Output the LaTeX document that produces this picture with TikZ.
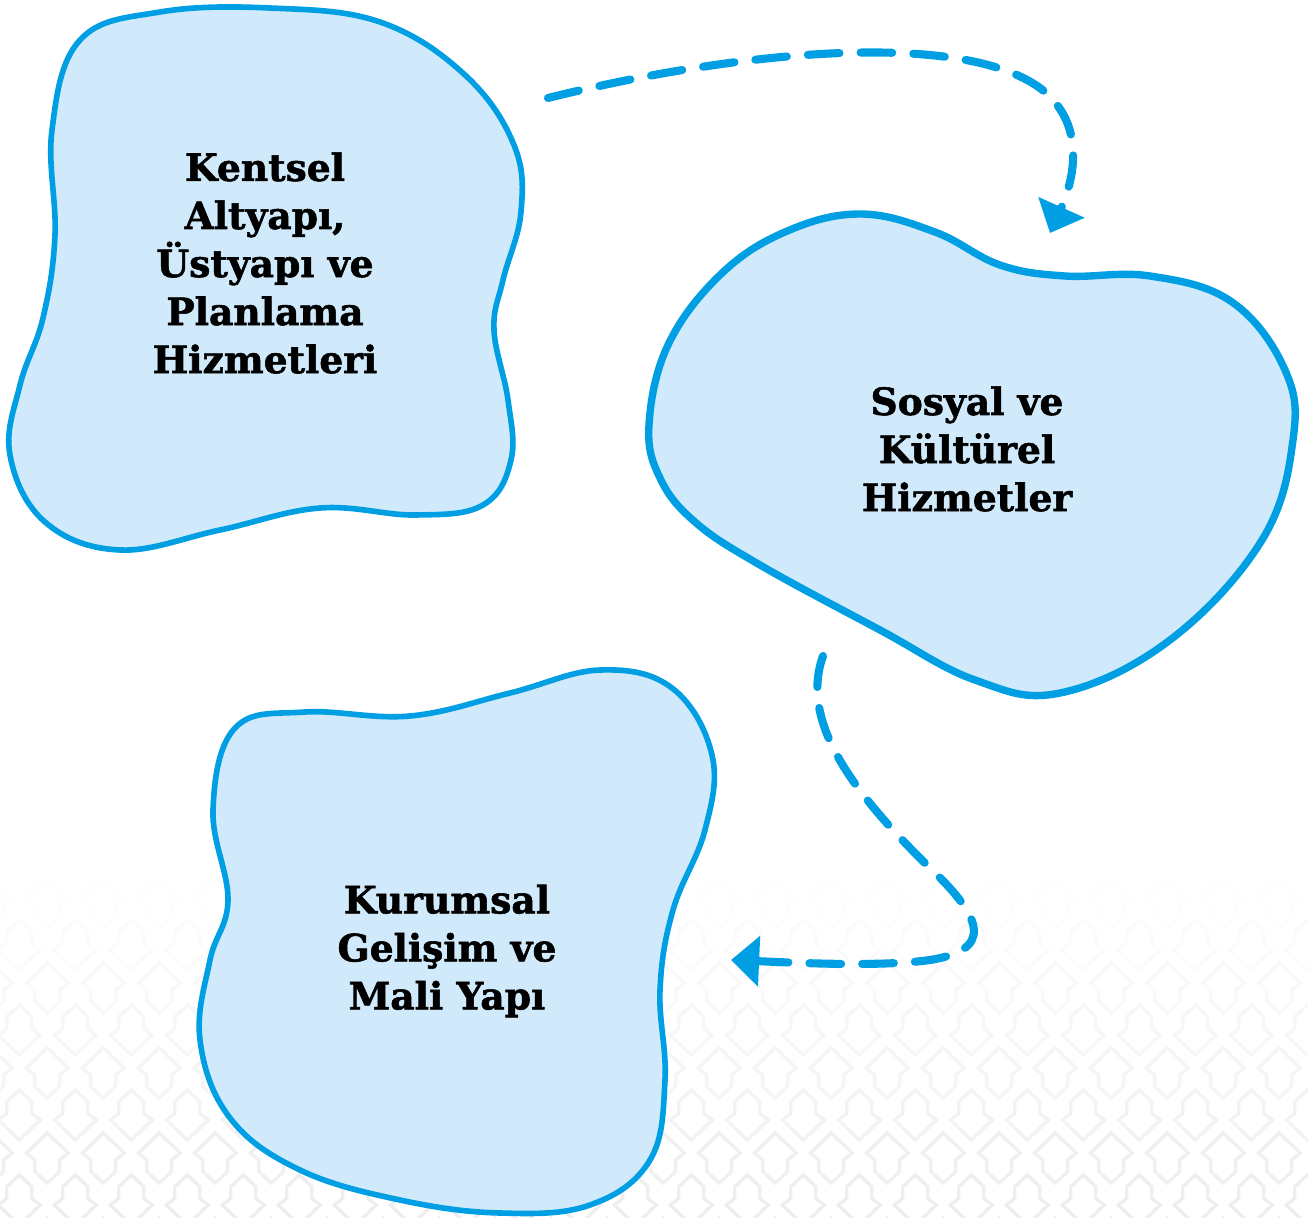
\documentclass[tikz,border=0pt]{standalone}
\usepackage{fontspec}
\setmainfont{DejaVu Serif}
\newfontfamily\labelfont[BoldFeatures={FakeBold=1.5}]{DejaVu Serif}
\usetikzlibrary{arrows.meta}
\definecolor{edgeblue}{RGB}{0,159,227}
\definecolor{fillblue}{RGB}{208,234,251}
\begin{document}
\begin{tikzpicture}[x=0.01cm,y=-0.01cm,
  blob/.style={draw=edgeblue,fill=fillblue,line width=1.6pt},
  label/.style={align=center,font=\labelfont\bfseries\fontsize{10.7}{13.66}\selectfont,text=black},
  flow/.style={draw=edgeblue,line width=2.3pt,line cap=round,
    dash pattern=on 9pt off 6pt,
    -{Triangle[length=8pt,width=14pt]}},
  motif/.style={line width=0.95pt,line join=miter}]
\useasboundingbox (0,0) rectangle (1308,1218);

% faint tiled ornament along the lower part, fading out upwards
\foreach \k in {-2,...,2} {
  \pgfmathsetmacro\ay{1005+85*\k}
  \pgfmathsetmacro\by{1048+85*\k}
  \pgfmathsetmacro\sa{max(0,min(6.5,(\ay-840)/330*6.5))}
  \pgfmathsetmacro\sb{max(0,min(6.5,(\by-840)/330*6.5))}
  \foreach \n in {-1,...,23} {
    \pgfmathsetmacro\ax{19.3+56*\n}
    \pgfmathsetmacro\bx{47.3+56*\n}
    \draw[motif,black!\sa] (\ax,\ay) -- ++(-12.5,11.7) -- ++(0,11.6) -- ++(-8.5,6.7)
      -- ++(21,20) -- ++(21,-20) -- ++(-8.5,-6.7) -- ++(0,-11.6) -- cycle;
    \draw[motif,black!\sb] (\bx,\by) -- ++(-21,20) -- ++(8.5,6.7) -- ++(0,11.6)
      -- ++(12.5,11.7) -- ++(12.5,-11.7) -- ++(0,-11.6) -- ++(8.5,-6.7) -- cycle;
  }
}

% three blob-shaped areas
\path[blob] plot[smooth cycle,tension=0.65] coordinates{
  (52,130) (80,40) (160,12) (270,8) (380,22) (465,75) (514,145) (521,212)
  (503,280) (494,330) (508,400) (511,460) (483,505) (415,515) (320,508)
  (220,530) (120,550) (45,522) (10,455) (20,385) (43,318) (55,235)};
\path[blob,line width=2.1pt] plot[smooth cycle,tension=0.65] coordinates{
  (649,425) (668,345) (720,275) (785,232) (860,214) (935,232) (1000,265) (1065,276)
  (1150,276) (1232,302) (1285,370) (1293,440) (1262,540) (1170,640)
  (1060,693) (975,680) (880,630) (760,565) (695,522) (660,478)};
\path[blob] plot[smooth cycle,tension=0.65] coordinates{
  (235,728) (305,712) (410,716) (510,693) (600,670) (672,688) (712,755)
  (705,830) (673,910) (660,990) (665,1080) (650,1160) (590,1205) (500,1213)
  (400,1200) (300,1170) (230,1118) (200,1040) (210,960) (228,900) (213,810)};

\node[label] (infra) at (265,263) {Kentsel\\Altyapı,\\Üstyapı ve\\Planlama\\Hizmetleri};
\node[label] (social) at (967,449) {Sosyal ve\\Kültürel\\Hizmetler};
\node[label] (inst) at (447,951) {Kurumsal\\Gelişim ve\\Mali Yapı};

% dashed connectors
\coordinate (a1s) at (548,98);
\coordinate (a1m) at (1040,88);
\coordinate (a1e) at (1050,233);
\coordinate (a2s) at (823,656);
\coordinate (a2e) at (731,960);
\draw[flow] (a1s) .. controls (740,50) and (960,30) .. (a1m)
  .. controls (1085,122) and (1076,175) .. (a1e);
\draw[flow] (a2s) .. controls (800,720) and (850,790) .. (930,868)
  .. controls (985,920) and (992,950) .. (930,960)
  .. controls (880,967) and (800,963) .. (a2e);
\end{tikzpicture}
\end{document}
